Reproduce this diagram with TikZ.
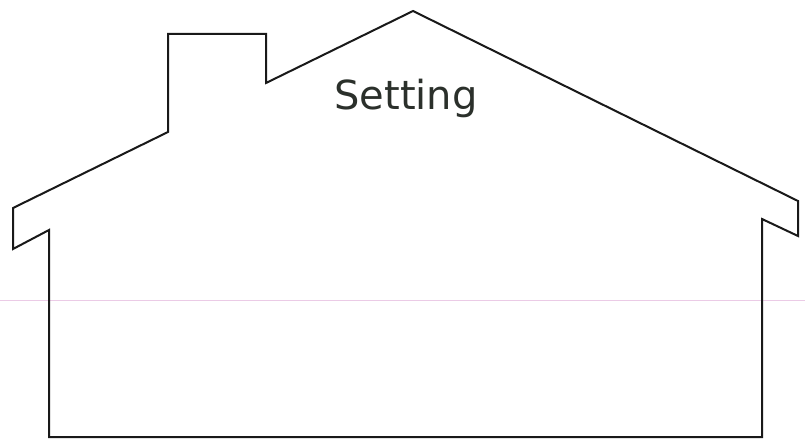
\documentclass[tikz,border=0pt]{standalone}
\usepackage{fontspec}
\usepackage{tikz}
\usetikzlibrary{positioning}
\newfontfamily\housefont{DejaVu Sans}
\definecolor{inkgray}{HTML}{2B302B}
\definecolor{scanpink}{HTML}{EBCBE6}
\tikzset{
  outline/.style = {draw=black!90, line width=2pt, line join=miter},
  title/.style   = {font=\housefont\fontsize{40}{40}\selectfont, text=inkgray, inner sep=0pt},
  scanline/.style = {draw=scanpink, line width=1pt}
}

\begin{document}
\begin{tikzpicture}[x=1pt,y=-1pt]
  \useasboundingbox (0,0) rectangle (805,441);
  % faint scan line
  \draw[scanline] (0,300) -- (805,300);
  % house outline with chimney
  \draw[outline] (49,437) -- (49,230) -- (13,249) -- (13,208) -- (168,132)
     -- (168,34) -- (266,34) -- (266,83) -- (413,11) -- (798,201)
     -- (798,236) -- (762,219) -- (762,437) -- cycle;
  \node[title, anchor=base] (setting) at (406,110) {Setting};
\end{tikzpicture}
\end{document}
